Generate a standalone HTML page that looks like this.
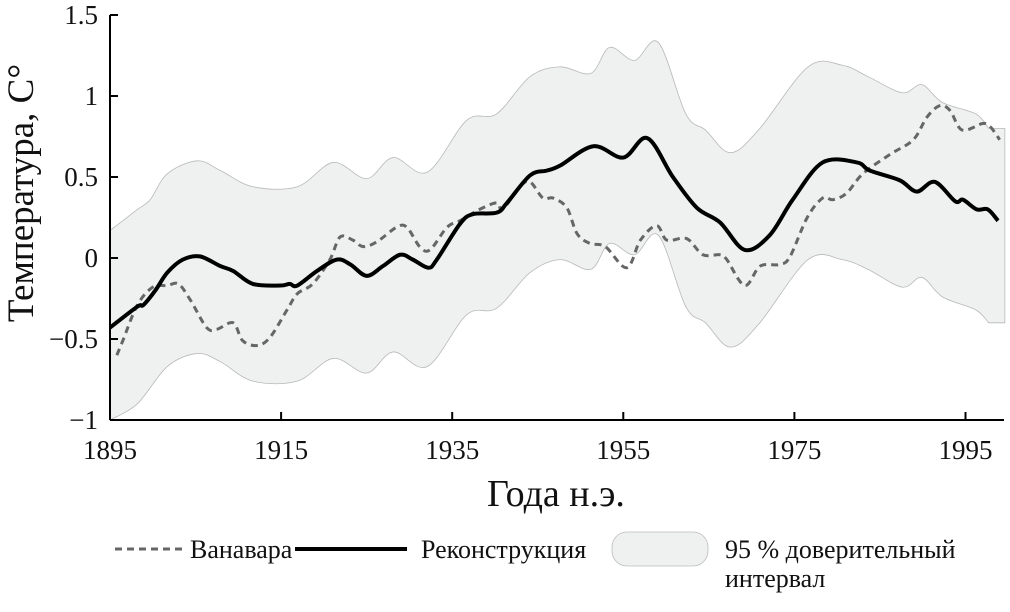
<!DOCTYPE html>
<html><head><meta charset="utf-8"><style>
body{margin:0;background:#fff;width:1010px;height:612px;overflow:hidden}
svg{display:block}
text{font-family:"Liberation Serif","DejaVu Serif",serif;fill:#111}
</style></head><body>
<svg id="chart" width="1010" height="612">
<g id="band-g"></g>
<g id="lines-g"></g>
<g id="axes-g"></g>
<text x="33" y="193" font-size="37" text-anchor="middle" transform="rotate(-90 33 193)">Температура, C°</text>
<text x="556" y="506" font-size="38" text-anchor="middle">Года н.э.</text>
<g>
<line x1="115" y1="549" x2="183" y2="549" stroke="#666" stroke-width="3" stroke-dasharray="7,5"/>
<text x="190" y="558" font-size="26">Ванавара</text>
<line x1="295" y1="549" x2="407" y2="549" stroke="#000" stroke-width="4"/>
<text x="421" y="558" font-size="26">Реконструкция</text>
<rect x="612" y="532" width="96" height="34" rx="15" fill="#eff0f0" stroke="#bbb" stroke-width="0.8"/>
<text x="725" y="558" font-size="26">95 % доверительный</text>
<text x="725" y="587" font-size="26">интервал</text>
</g>
</svg>
<script>
const xTicks=[1895,1915,1935,1955,1975,1995];
const yTicks=[1.5,1,0.5,0,-0.5,-1];
const yTickLabels=["1.5","1","0.5","0","\u22120.5","\u22121"];
const reconYears=[1895,1898.2,1898.9,1900.3,1901.7,1903.5,1905.5,1907.9,1909.4,1911.7,1914.9,1916,1916.9,1919.2,1921.5,1923.1,1925,1926.9,1928.9,1930.4,1932.2,1933.2,1935.9,1937.4,1940.2,1941.4,1944.1,1946.1,1947.6,1951.5,1955,1957.8,1960.8,1963.6,1966.3,1969.2,1972.1,1974.8,1978.3,1982.3,1983.8,1987.3,1989.3,1991.4,1993.8,1994.7,1996.3,1997.6,1998.8];
const reconValues=[-0.43,-0.30,-0.29,-0.20,-0.09,-0.01,0.01,-0.05,-0.08,-0.16,-0.17,-0.16,-0.17,-0.08,-0.01,-0.04,-0.11,-0.05,0.02,-0.01,-0.06,-0.01,0.21,0.27,0.28,0.34,0.51,0.54,0.57,0.69,0.62,0.74,0.50,0.31,0.22,0.05,0.14,0.36,0.59,0.59,0.54,0.48,0.41,0.47,0.35,0.36,0.30,0.30,0.23];
const vanYears=[1895.8,1896.5,1898.2,1900.0,1901.7,1903.0,1904.4,1906.3,1907.5,1909.4,1910.5,1912.2,1913.7,1915.7,1916.9,1918.7,1920.7,1921.9,1923.4,1924.6,1926.2,1928.5,1929.7,1931.2,1932.4,1934.4,1935.9,1938.2,1940.2,1940.9,1942.9,1944.1,1945.6,1946.8,1948.4,1949.6,1951.1,1952.9,1955.4,1957,1958.9,1960.1,1962.4,1964.3,1966.3,1967.1,1969.2,1971,1973.3,1974.5,1976.5,1978.3,1979.5,1981.1,1983,1986.2,1988.9,1990.5,1992,1993.2,1994.6,1997,1997.9,1999];
const vanValues=[-0.60,-0.51,-0.29,-0.18,-0.17,-0.16,-0.26,-0.43,-0.44,-0.40,-0.51,-0.54,-0.49,-0.32,-0.22,-0.16,-0.01,0.13,0.11,0.07,0.10,0.19,0.19,0.07,0.05,0.19,0.23,0.30,0.34,0.30,0.44,0.47,0.37,0.37,0.31,0.15,0.09,0.07,-0.06,0.11,0.20,0.11,0.12,0.02,0.02,-0.01,-0.17,-0.05,-0.04,0.01,0.25,0.37,0.36,0.40,0.52,0.64,0.73,0.87,0.94,0.91,0.79,0.83,0.81,0.73];
const bandUpYears=[1895,1896.5,1898.2,1899.7,1901.7,1905.2,1907.9,1911.7,1916.9,1921.1,1925,1928.1,1932.1,1936.7,1940.2,1944.1,1947.6,1951.2,1953.4,1956.3,1959.1,1962.3,1964.6,1967.5,1970.8,1976.6,1980.6,1983.6,1987.6,1989.9,1992.3,1996.2,1997.7];
const bandUpValues=[0.17,0.23,0.30,0.36,0.52,0.60,0.54,0.44,0.44,0.59,0.49,0.62,0.53,0.85,0.89,1.12,1.18,1.14,1.30,1.22,1.33,0.89,0.79,0.65,0.79,1.18,1.19,1.12,1.02,1.07,0.96,0.89,0.80];
const bandLoYears=[1895,1898.2,1901.7,1905.2,1907.9,1911.7,1916.9,1921.1,1925,1928.1,1932.1,1936.7,1940.2,1944.1,1947.6,1951.2,1953.4,1956.3,1959.1,1962.3,1964.6,1967.5,1970.8,1976.6,1980.6,1983.6,1987.6,1989.9,1992.3,1996.2,1997.7];
const bandLoValues=[-1.0,-0.90,-0.67,-0.59,-0.64,-0.76,-0.76,-0.62,-0.71,-0.58,-0.67,-0.35,-0.31,-0.09,-0.01,-0.07,0.09,0.02,0.14,-0.30,-0.40,-0.55,-0.41,-0.01,-0.01,-0.07,-0.18,-0.12,-0.24,-0.32,-0.40];
</script>
<script>
const NS="http://www.w3.org/2000/svg";
const X0=110,PX=8.555,Y0=258,PY=162;
function xs(y){return X0+(y-1895)*PX;}
function ys(v){return Y0-v*PY;}
function pts(yr,vals){const n=Math.min(yr.length,vals.length);const p=[];for(let i=0;i<n;i++)p.push([xs(yr[i]),ys(vals[i])]);return p;}
function smooth(p,move){let d=move?"M"+p[0][0]+","+p[0][1]:"L"+p[0][0]+","+p[0][1];
for(let i=0;i<p.length-1;i++){const a=p[i-1]||p[i],b=p[i],c=p[i+1],e=p[i+2]||c;
d+=" C"+(b[0]+(c[0]-a[0])/6)+","+(b[1]+(c[1]-a[1])/6)+" "+(c[0]-(e[0]-b[0])/6)+","+(c[1]-(e[1]-b[1])/6)+" "+c[0]+","+c[1];}
return d;}
function mk(tag,attrs,parent){const el=document.createElementNS(NS,tag);for(const k in attrs)el.setAttribute(k,attrs[k]);parent.appendChild(el);return el;}
const bandG=document.getElementById('band-g'),linesG=document.getElementById('lines-g'),axesG=document.getElementById('axes-g');
const up=pts(bandUpYears,bandUpValues),lo=pts(bandLoYears,bandLoValues).reverse();
const xe=xs(1999.6);
let bd=smooth(up,true)+" L"+xe+","+up[up.length-1][1]+" L"+xe+","+lo[0][1]+" "+smooth(lo,false)+" Z";
const band=mk('path',{d:bd,fill:"#eff0f0",stroke:"#b8b8b8","stroke-width":"0.8"},bandG);


const van=mk('path',{d:smooth(pts(vanYears,vanValues),true),fill:"none",stroke:"#666","stroke-width":"3","stroke-dasharray":"7,5"},linesG);


const rec=mk('path',{d:smooth(pts(reconYears,reconValues),true),fill:"none",stroke:"#000","stroke-width":"4","stroke-linejoin":"round"},linesG);


const ya=mk('line',{x1:X0,y1:ys(1.5),x2:X0,y2:ys(-1),stroke:"#000","stroke-width":"2"},axesG);


const xa=mk('line',{x1:X0,y1:ys(-1),x2:1004,y2:ys(-1),stroke:"#000","stroke-width":"2"},axesG);


yTicks.forEach((v,i)=>{
const t=mk('line',{x1:X0,y1:ys(v),x2:X0+8,y2:ys(v),stroke:"#000","stroke-width":"2"},axesG);


const l=mk('text',{x:X0-12,y:ys(v)+9,"font-size":"27","text-anchor":"end"},axesG);
l.textContent=yTickLabels[i];


});
xTicks.forEach(y=>{
const t=mk('line',{x1:xs(y),y1:ys(-1),x2:xs(y),y2:ys(-1)-8,stroke:"#000","stroke-width":"2"},axesG);


const l=mk('text',{x:xs(y),y:ys(-1)+39,"font-size":"27","text-anchor":"middle"},axesG);
l.textContent=String(y);


});
</script>
</body></html>
